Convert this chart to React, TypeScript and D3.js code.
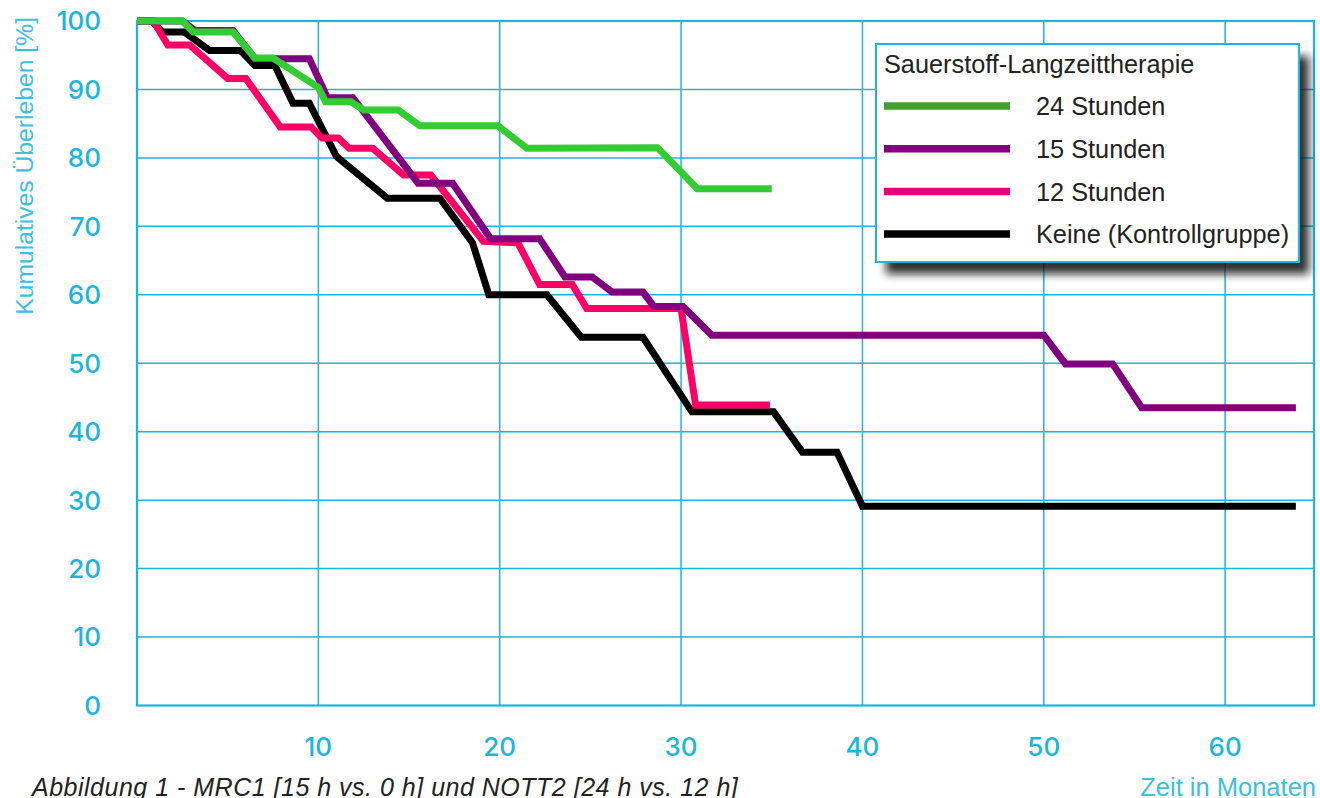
import React from "react";
import * as d3 from "d3";

// ---- data ----
const xTicks = [10, 20, 30, 40, 50, 60];
const yTicks = [0, 10, 20, 30, 40, 50, 60, 70, 80, 90, 100];

const h24Months = [0, 2.5, 3.1, 5.3, 6.5, 7.5, 10, 10.4, 11.8, 12.5, 14.4, 15.6, 19.9, 21.5, 28.7, 30.9, 35];
const h24Survival = [100, 100, 98.4, 98.4, 94.6, 94.6, 90.3, 88.2, 88.2, 87, 87, 84.7, 84.7, 81.4, 81.5, 75.5, 75.5];

const h15Months = [0, 2.5, 3.2, 5.3, 6.5, 9.5, 10.5, 11.9, 15.5, 17.4, 19.5, 22.2, 23.6, 25.1, 26.2, 27.9, 28.5, 30.1, 31.7, 50, 51.2, 53.8, 55.4, 63.9];
const h15Survival = [100, 100, 98.6, 98.6, 94.5, 94.5, 88.8, 88.8, 76.3, 76.3, 68.2, 68.2, 62.6, 62.6, 60.4, 60.4, 58.3, 58.3, 54.1, 54.1, 49.9, 49.9, 43.5, 43.5];

const h12Months = [0, 0.9, 1.7, 2.9, 5.0, 6.0, 7.9, 9.6, 10.2, 11.1, 11.7, 13.0, 14.7, 16.2, 19.1, 21.0, 22.2, 24.0, 24.8, 30.0, 30.8, 34.9];
const h12Survival = [100, 100, 96.5, 96.5, 91.6, 91.6, 84.5, 84.5, 82.9, 82.9, 81.4, 81.4, 77.5, 77.5, 67.8, 67.6, 61.5, 61.5, 58, 58, 43.9, 43.9];

const noneMonths = [0, 0.8, 1.4, 2.6, 4.0, 5.7, 6.5, 7.6, 8.6, 9.5, 11.0, 13.8, 16.7, 18.5, 19.4, 22.6, 24.5, 27.9, 30.6, 35.1, 36.7, 38.6, 40.0, 63.9];
const noneSurvival = [100, 100, 98.4, 98.4, 95.7, 95.7, 93.5, 93.5, 88, 88, 80.2, 74.1, 74.1, 67.6, 60, 60, 53.8, 53.8, 42.9, 42.9, 37, 37, 29.1, 29.1];

const seriesNames = ["24 Stunden", "15 Stunden", "12 Stunden", "Keine (Kontrollgruppe)"];
const seriesColors = ["#33cc33", "#800080", "#ff0066", "#000000"];
const legendColors = ["#43a030", "#800080", "#e6007a", "#000000"];

const legendTitle = "Sauerstoff-Langzeittherapie";
const yTitle = "Kumulatives Überleben [%]";
const xTitle = "Zeit in Monaten";
const caption = "Abbildung 1 - MRC1 [15 h vs. 0 h] und NOTT2 [24 h vs. 12 h]";

const W = 1320;
const H = 798;
const cyan = "#1cb5dc";

export default function App() {
  const x = d3.scaleLinear().domain([0, 64.9]).range([137, 1314]);
  const y = d3.scaleLinear().domain([0, 100]).range([705.5, 21]);

  const seriesData: [number[], number[]][] = [
    [h24Months, h24Survival],
    [h15Months, h15Survival],
    [h12Months, h12Survival],
    [noneMonths, noneSurvival],
  ];

  const line = d3
    .line<[number, number]>()
    .x((d) => x(d[0]))
    .y((d) => y(d[1]));

  const font = "'Liberation Sans', Arial, sans-serif";
  const tickFont = "Inter, 'Liberation Sans', sans-serif";
  const drawOrder = [3, 2, 1, 0];

  const lgX = 876;
  const lgY = 44;
  const lgW = 423;
  const lgH = 218;

  return (
    <svg
      width={W}
      height={H}
      style={{ position: "absolute", left: 0, top: 0, background: "#fff" }}
    >
      <defs>
        <filter id="shadow" x="-20%" y="-20%" width="140%" height="140%">
          <feGaussianBlur stdDeviation="4" />
        </filter>
      </defs>

      {/* grid */}
      {xTicks.map((t) => (
        <line key={"gx" + t} x1={x(t)} x2={x(t)} y1={y(0)} y2={y(100)} stroke={cyan} strokeWidth={1.5} />
      ))}
      {yTicks.filter((t) => t > 0 && t < 100).map((t) => (
        <line key={"gy" + t} x1={x(0)} x2={x(64.9)} y1={y(t)} y2={y(t)} stroke={cyan} strokeWidth={1.5} />
      ))}
      <rect
        x={x(0)}
        y={y(100)}
        width={x(64.9) - x(0)}
        height={y(0) - y(100)}
        fill="none"
        stroke={cyan}
        strokeWidth={2.2}
      />

      {/* series */}
      {drawOrder.map((i) => {
        const [ms, ss] = seriesData[i];
        const pts = ms.map((m, k) => [m, ss[k]] as [number, number]);
        return (
          <path
            key={"s" + i}
            d={line(pts) || ""}
            fill="none"
            stroke={seriesColors[i]}
            strokeWidth={7}
            strokeLinejoin="miter"
            strokeLinecap="butt"
          />
        );
      })}

      {/* y tick labels */}
      {yTicks.map((t) => (
        <text
          key={"yl" + t}
          x={101}
          y={y(t)}
          dy="0.36em"
          textAnchor="end"
          fill={cyan}
          fontFamily={tickFont}
          fontSize={26}
          fontWeight={500}
        >
          {t}
        </text>
      ))}
      {/* x tick labels */}
      {xTicks.map((t) => (
        <text
          key={"xl" + t}
          x={x(t)}
          y={756}
          textAnchor="middle"
          fill={cyan}
          fontFamily={tickFont}
          fontSize={26}
          fontWeight={500}
        >
          {t}
        </text>
      ))}

      {/* axis titles */}
      <text
        transform={`translate(33,17) rotate(-90)`}
        textAnchor="end"
        fill="#3cc0e0"
        fontFamily={font}
        fontSize={24.7}
      >
        {yTitle}
      </text>
      <text x={1316} y={796} textAnchor="end" fill="#3cc0e0" fontFamily={font} fontSize={25.5}>
        {xTitle}
      </text>
      <text x={32} y={796} fill="#222" fontFamily={font} fontSize={25} fontStyle="italic" letterSpacing={0.5}>
        {caption}
      </text>

      {/* legend */}
      <rect x={lgX + 10} y={lgY + 12} width={lgW} height={lgH} fill="#111" opacity={0.85} filter="url(#shadow)" />
      <rect x={lgX} y={lgY} width={lgW} height={lgH} fill="#fff" stroke={cyan} strokeWidth={2} />
      <text x={lgX + 8} y={lgY + 29} fill="#222" fontFamily={font} fontSize={25.3}>
        {legendTitle}
      </text>
      {seriesNames.map((n, i) => {
        const ly = lgY + 62 + i * 42.7;
        return (
          <g key={"lg" + i}>
            <line x1={lgX + 8} x2={lgX + 134} y1={ly} y2={ly} stroke={legendColors[i]} strokeWidth={7.5} />
            <text x={lgX + 160} y={ly} dy="0.36em" fill="#222" fontFamily={font} fontSize={25.3}>
              {n}
            </text>
          </g>
        );
      })}
    </svg>
  );
}
